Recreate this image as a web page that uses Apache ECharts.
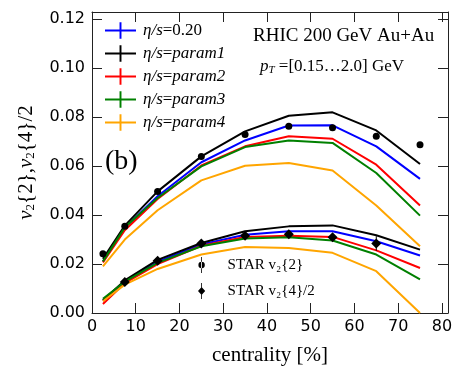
<!DOCTYPE html>
<html>
<head>
<meta charset="utf-8">
<script src="https://cdn.jsdelivr.net/npm/echarts@6/dist/echarts.min.js"></script>
<style>
  html, body { margin: 0; padding: 0; background: #fff; }
  #chart { width: 463px; height: 383px; }
</style>
</head>
<body>
<div id="chart"></div>
<script>
// centrality bins (%)
const centrality = [2.5, 7.5, 15, 25, 35, 45, 55, 65, 75];

// hydro v2{2}
const v22_eta020 = [0.0210, 0.0348, 0.0477, 0.0616, 0.0705, 0.0766, 0.0767, 0.0681, 0.0548];
const v22_param1 = [0.0221, 0.0357, 0.0497, 0.0640, 0.0742, 0.0806, 0.0820, 0.0746, 0.0609];
const v22_param2 = [0.0207, 0.0338, 0.0466, 0.0603, 0.0681, 0.0722, 0.0712, 0.0606, 0.0439];
const v22_param3 = [0.0211, 0.0350, 0.0470, 0.0599, 0.0678, 0.0705, 0.0695, 0.0572, 0.0398];
const v22_param4 = [0.0191, 0.0300, 0.0420, 0.0542, 0.0602, 0.0613, 0.0582, 0.0439, 0.0273];

// hydro v2{4}/2
const v24_eta020 = [0.0050, 0.0127, 0.0210, 0.0280, 0.0320, 0.0334, 0.0334, 0.0293, 0.0235];
const v24_param1 = [0.0052, 0.0133, 0.0217, 0.0286, 0.0334, 0.0354, 0.0358, 0.0318, 0.0259];
const v24_param2 = [0.0037, 0.0122, 0.0200, 0.0275, 0.0311, 0.0316, 0.0311, 0.0256, 0.0184];
const v24_param3 = [0.0058, 0.0128, 0.0205, 0.0273, 0.0304, 0.0310, 0.0296, 0.0239, 0.0137];
const v24_param4 = [0.0048, 0.0116, 0.0180, 0.0239, 0.0270, 0.0266, 0.0246, 0.0171, 0.0000];

// STAR data
const star22_x = [2.5, 7.5, 15, 25, 35, 45, 55, 65, 75];
const star22_y = [0.0242, 0.0354, 0.0497, 0.0640, 0.0729, 0.0763, 0.0757, 0.0722, 0.0688];
const star22_err = [0.0004, 0.0004, 0.0005, 0.0005, 0.0006, 0.0006, 0.0006, 0.0008, 0.0010];
const star24_x = [7.5, 15, 25, 35, 45, 55, 65];
const star24_y = [0.0127, 0.0214, 0.0284, 0.0316, 0.0322, 0.0310, 0.0284];
const star24_err = [0.0005, 0.0005, 0.0006, 0.0008, 0.0008, 0.0010, 0.0030];

const xTicks = [0, 10, 20, 30, 40, 50, 60, 70, 80];
const yTicks = [0.00, 0.02, 0.04, 0.06, 0.08, 0.10, 0.12];

const names = ['η/s=0.20', 'η/s=param1', 'η/s=param2', 'η/s=param3', 'η/s=param4'];
const colors = ['#0000ff', '#000000', '#ff0000', '#008000', '#ffa500'];
const v22 = [v22_eta020, v22_param1, v22_param2, v22_param3, v22_param4];
const v24 = [v24_eta020, v24_param1, v24_param2, v24_param3, v24_param4];
const starNames = ['STAR v₂{2}', 'STAR v₂{4}/2'];

const serif = 'Liberation Serif';
const sans = 'DejaVu Sans';
const axisColor = '#222';

function pairs(xs, ys) { return xs.map((x, i) => [x, ys[i]]); }

const series = [];
names.forEach((n, k) => {
  [v22[k], v24[k]].forEach(vals => {
    series.push({
      name: n, type: 'line', data: pairs(centrality, vals),
      showSymbol: false, symbol: 'none', z: 3,
      lineStyle: { color: colors[k], width: 2 },
      itemStyle: { color: colors[k] }
    });
  });
});

function errSeries(xs, ys, es) {
  return {
    type: 'custom', silent: true, z: 4,
    data: xs.map((x, i) => [x, ys[i], es[i]]),
    renderItem: (params, api) => {
      const x = api.value(0), y = api.value(1), e = api.value(2);
      const a = api.coord([x, y - e]), b = api.coord([x, y + e]);
      return { type: 'line', shape: { x1: a[0], y1: a[1], x2: b[0], y2: b[1] },
        style: { stroke: '#000', lineWidth: 1 } };
    }
  };
}
series.push(errSeries(star22_x, star22_y, star22_err));
series.push(errSeries(star24_x, star24_y, star24_err));
series.push({
  name: starNames[0], type: 'scatter', data: pairs(star22_x, star22_y),
  symbol: 'circle', symbolSize: 7, z: 5, itemStyle: { color: '#000', opacity: 1 }
});
series.push({
  name: starNames[1], type: 'scatter', data: pairs(star24_x, star24_y),
  symbol: 'diamond', symbolSize: 10, z: 5, itemStyle: { color: '#000', opacity: 1 }
});

const crossIcon = 'path://M0,7.5h32v2h-32z M15,0h2v17h-2z';
const dotIcon = 'path://M9.5,0h1v20h-1z M6,10a4,4 0 1,0 8,0a4,4 0 1,0 -8,0z';
const diaIcon = 'path://M9.5,0h1v20h-1z M10,5L14.5,10L10,15L5.5,10z';

const tickStyle = { inside: true, length: 10, lineStyle: { color: axisColor } };
const lineStyleAx = { show: true, onZero: false, lineStyle: { color: axisColor, width: 1 } };

const chart = echarts.init(document.getElementById('chart'));
chart.setOption({
  animation: false,
  backgroundColor: '#fff',
  grid: { left: 92, top: 12, width: 356, height: 301 },
  xAxis: [{
    type: 'value', min: 0, max: 81.4, interval: 10,
    name: 'centrality [%]', nameLocation: 'middle', nameGap: 32,
    nameTextStyle: { fontFamily: serif, fontSize: 21, color: '#000' },
    axisLine: lineStyleAx,
    axisTick: tickStyle,
    axisLabel: { fontFamily: sans, fontSize: 16, color: '#000', margin: 6, showMaxLabel: false,
      formatter: v => xTicks.includes(v) ? String(v) : '' },
    splitLine: { show: false }
  }, {
    type: 'value', min: 0, max: 81.4, interval: 10, position: 'top',
    axisLine: lineStyleAx,
    axisTick: tickStyle,
    axisLabel: { show: false }, splitLine: { show: false }
  }],
  yAxis: [{
    type: 'value', min: 0, max: 0.123, interval: 0.02,
    name: '{i|v}{s|2}{2},{i|v}{s|2}{4}/2', nameLocation: 'middle', nameGap: 55, nameRotate: 90,
    nameTextStyle: { fontFamily: serif, fontSize: 21, color: '#000',
      rich: { i: { fontFamily: serif, fontStyle: 'italic', fontSize: 21 },
              s: { fontFamily: serif, fontSize: 13, padding: [8, 0, 0, 0] } } },
    axisLine: lineStyleAx,
    axisTick: Object.assign({ show: true }, tickStyle),
    axisLabel: { fontFamily: sans, fontSize: 16, color: '#000', margin: 7, showMaxLabel: false,
      formatter: v => { const t = yTicks.find(q => Math.abs(q - v) < 1e-9); return t === undefined ? '' : t.toFixed(2); } },
    splitLine: { show: false }
  }, {
    type: 'value', min: 0, max: 0.123, interval: 0.02, position: 'right',
    axisLine: lineStyleAx,
    axisTick: Object.assign({ show: true }, tickStyle),
    axisLabel: { show: false }, splitLine: { show: false }
  }],
  legend: [{
    data: names.map(n => ({ name: n, icon: crossIcon })),
    orient: 'vertical', left: 100, top: 17, itemWidth: 31, itemHeight: 17, itemGap: 6,
    selectedMode: false,
    formatter: n => {
      const p = n.split('=');
      const rhs = /^[0-9.]+$/.test(p[1]) ? '{n|' + p[1] + '}' : '{i|' + p[1] + '}';
      return '{i|η/s}{n|=}' + rhs;
    },
    textStyle: { padding: [0, 0, 0, 2], rich: {
      i: { fontFamily: serif, fontStyle: 'italic', fontSize: 17, color: '#000' },
      n: { fontFamily: serif, fontSize: 17, color: '#000' } } }
  }, {
    data: [{ name: starNames[0], icon: dotIcon }, { name: starNames[1], icon: diaIcon }],
    orient: 'vertical', left: 193, top: 252, itemWidth: 10, itemHeight: 16, itemGap: 10,
    selectedMode: false,
    textStyle: { fontFamily: serif, fontSize: 15, color: '#000', padding: [0, 0, 0, 16] }
  }],
  graphic: [
    { type: 'text', left: 253, top: 27, style: { text: 'RHIC 200 GeV Au+Au', font: '19px "Liberation Serif"', fill: '#000' } },
    { type: 'text', left: 260, top: 58, style: {
      text: '{i|p}{s|T}{n| =[0.15…2.0] GeV}',
      rich: { i: { font: 'italic 17px "Liberation Serif"', fill: '#000' },
              s: { font: 'italic 11px "Liberation Serif"', fill: '#000', padding: [7, 0, 0, 0] },
              n: { font: '17px "Liberation Serif"', fill: '#000' } } } },
    { type: 'text', left: 105, top: 148, style: { text: '(b)', font: '28px "Liberation Serif"', fill: '#000' } }
  ],
  series: series
});
</script>
</body>
</html>
